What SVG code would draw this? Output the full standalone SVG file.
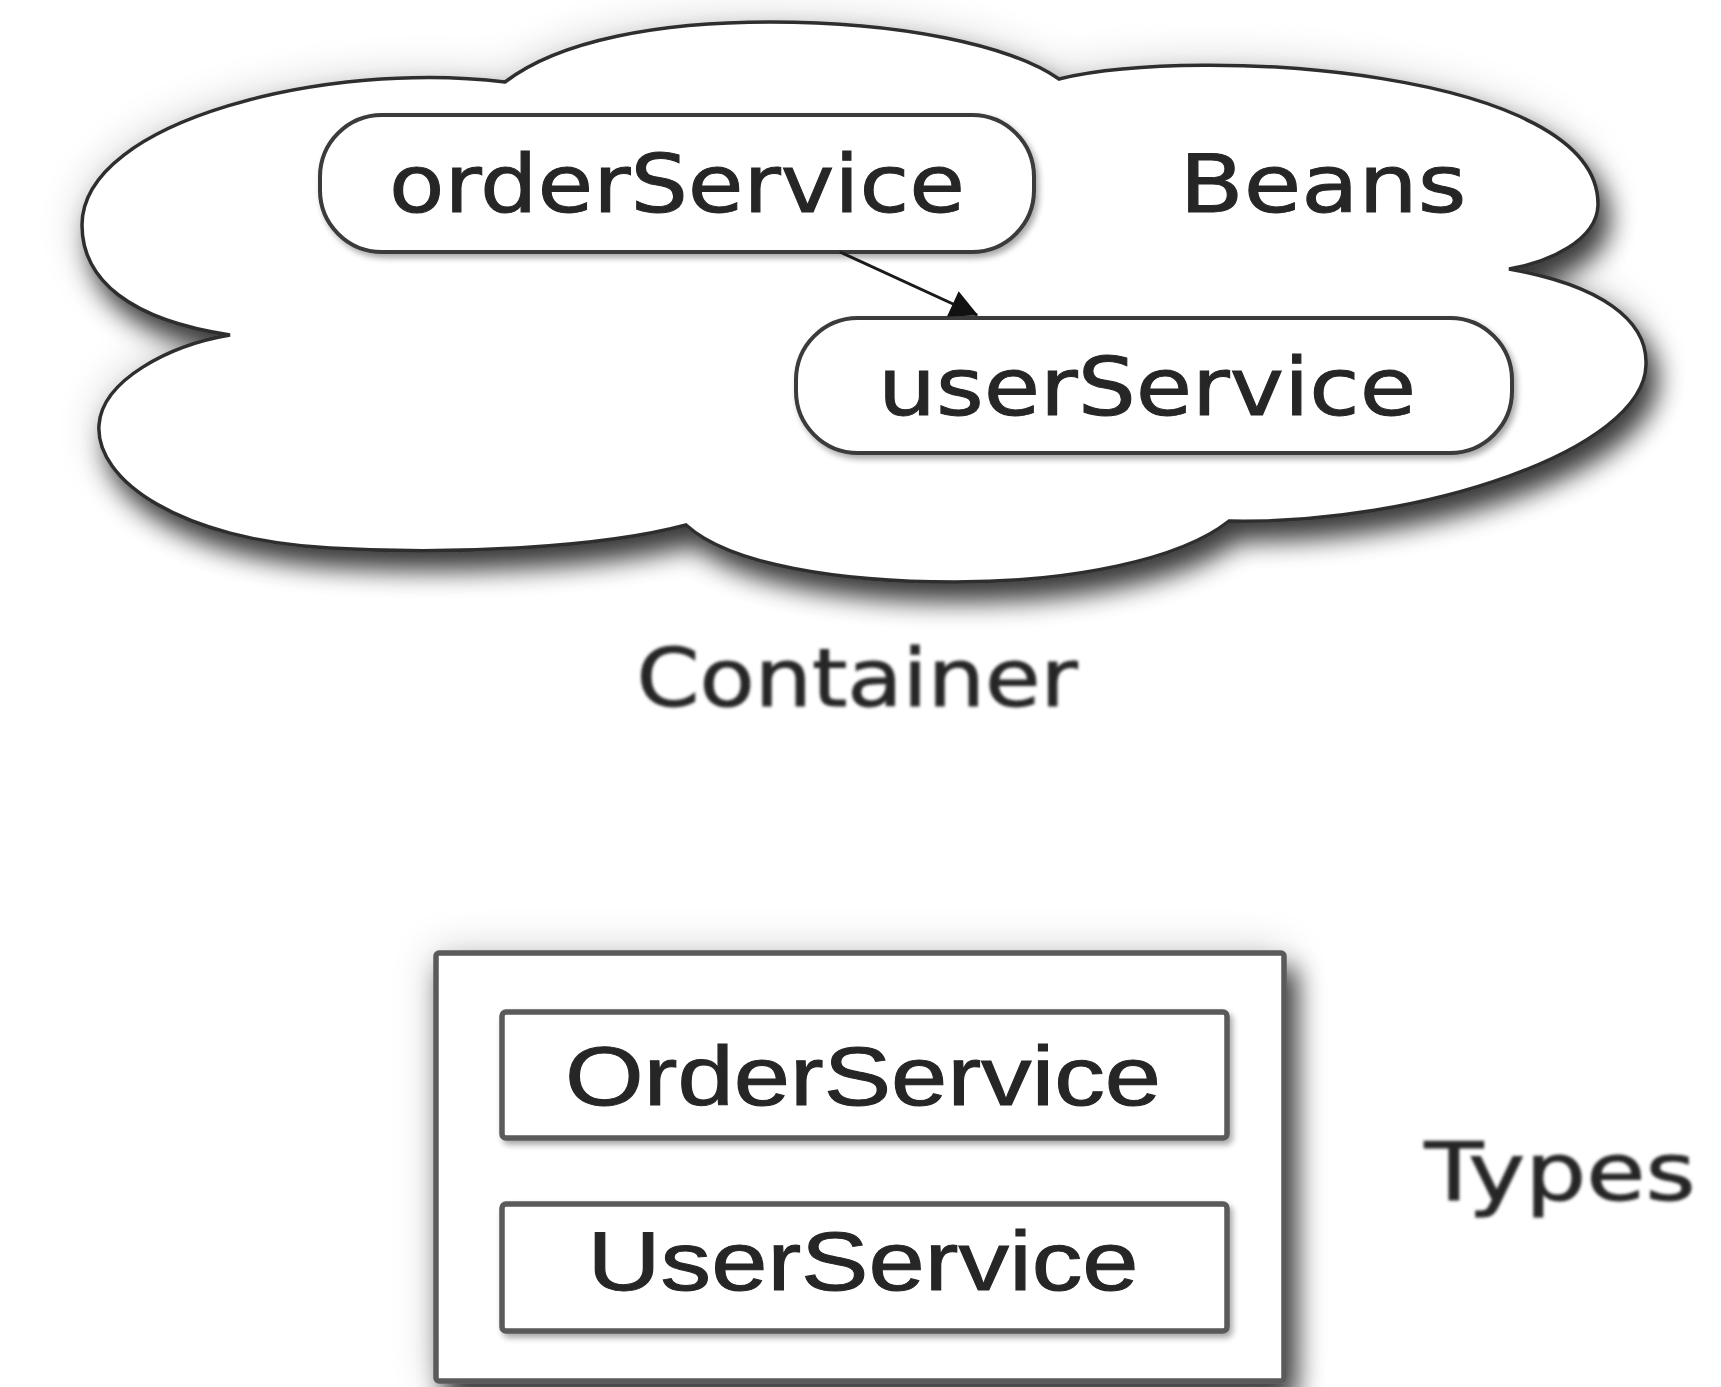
<svg xmlns="http://www.w3.org/2000/svg" width="1721" height="1387" viewBox="0 0 1721 1387">
  <defs>
    <style>
      .cloud { fill: #ffffff; stroke: #2e2e2e; stroke-width: 3.5; }
      .pill { fill: #ffffff; stroke: #3a3a3a; stroke-width: 4; }
      .box { fill: #ffffff; stroke: #5a5a5a; stroke-width: 5.5; }
      .lbl { font-family: "DejaVu Sans", "Liberation Sans", sans-serif; font-size: 80px; fill: #262626; stroke: #262626; stroke-width: 1; text-anchor: middle; }
      .type { font-family: "Liberation Sans", Arial, sans-serif; font-size: 84px; fill: #262626; stroke: #262626; stroke-width: 1; text-anchor: middle; }
      .edge { fill: none; stroke: #1a1a1a; stroke-width: 3; }
    </style>
    <filter id="shadow" x="-15%" y="-20%" width="140%" height="160%">
      <feGaussianBlur in="SourceAlpha" stdDeviation="13" result="b1"/>
      <feOffset in="b1" dx="10" dy="18" result="o1"/>
      <feComponentTransfer in="o1" result="s1"><feFuncA type="linear" slope="0.75"/></feComponentTransfer>
      <feGaussianBlur in="SourceAlpha" stdDeviation="22" result="b2"/>
      <feComponentTransfer in="b2" result="s2"><feFuncA type="linear" slope="0.18"/></feComponentTransfer>
      <feMerge><feMergeNode in="s2"/><feMergeNode in="s1"/><feMergeNode in="SourceGraphic"/></feMerge>
    </filter>
    <filter id="softShadow" x="-10%" y="-20%" width="130%" height="150%">
      <feGaussianBlur in="SourceAlpha" stdDeviation="3"/>
      <feOffset dx="3" dy="4" result="b"/>
      <feComponentTransfer><feFuncA type="linear" slope="0.35"/></feComponentTransfer>
      <feMerge><feMergeNode/><feMergeNode in="SourceGraphic"/></feMerge>
    </filter>
    <filter id="soft" x="-5%" y="-20%" width="110%" height="140%">
      <feGaussianBlur stdDeviation="1.8"/>
    </filter>
    <marker id="arrow" viewBox="0 0 10 10" refX="9.5" refY="5" markerWidth="38" markerHeight="28" markerUnits="userSpaceOnUse" orient="auto">
      <path d="M0,0 L10,5 L0,10 Z" fill="#111111"/>
    </marker>
  </defs>

  <!-- Bean container drawn as a cloud -->
  <g id="container">
    <path class="cloud" filter="url(#shadow)" d="
      M230,335
      C130,320 82,280 82,225
      C82,120 330,60 505,82
      C560,40 660,22 770,22
      C900,22 1010,45 1059,79
      C1200,45 1600,70 1598,205
      C1597,240 1550,262 1509,269
      C1600,285 1648,320 1646,365
      C1644,450 1420,525 1229,521
      C1180,560 1070,582 955,582
      C840,582 730,565 686,525
      C600,548 450,555 330,548
      C180,540 95,480 99,425
      C102,380 170,345 230,335 Z"/>
    <text class="lbl" x="857" y="706" textLength="441" lengthAdjust="spacingAndGlyphs" fill="#3a3a3a" filter="url(#soft)">Container</text>
    <text class="lbl" x="1323" y="212" textLength="287" lengthAdjust="spacingAndGlyphs">Beans</text>
  </g>

  <!-- Bean instances -->
  <g id="orderService">
    <rect class="pill" filter="url(#softShadow)" x="320" y="115" width="714" height="137" rx="62" ry="62"/>
    <text class="lbl" x="677" y="212" textLength="576" lengthAdjust="spacingAndGlyphs">orderService</text>
  </g>
  <g id="userService">
    <rect class="pill" filter="url(#softShadow)" x="796" y="318" width="716" height="135" rx="62" ry="62"/>
    <text class="lbl" x="1147" y="415" textLength="538" lengthAdjust="spacingAndGlyphs">userService</text>
  </g>

  <!-- Dependency between beans -->
  <g id="connectors">
    <line class="edge" x1="840" y1="252" x2="977" y2="315" marker-end="url(#arrow)"/>
  </g>

  <!-- Type definitions -->
  <g id="types">
    <rect class="box" filter="url(#shadow)" x="436" y="953" width="848" height="428" rx="3"/>
    <text class="lbl" x="1560" y="1200" textLength="271" lengthAdjust="spacingAndGlyphs" filter="url(#soft)">Types</text>
  </g>
  <g id="OrderService">
    <rect class="box" filter="url(#softShadow)" x="502" y="1012" width="725" height="126" rx="4"/>
    <text class="type" x="863" y="1105" textLength="596" lengthAdjust="spacingAndGlyphs">OrderService</text>
  </g>
  <g id="UserService">
    <rect class="box" filter="url(#softShadow)" x="502" y="1204" width="725" height="127" rx="4"/>
    <text class="type" x="863" y="1290" textLength="551" lengthAdjust="spacingAndGlyphs">UserService</text>
  </g>
</svg>
